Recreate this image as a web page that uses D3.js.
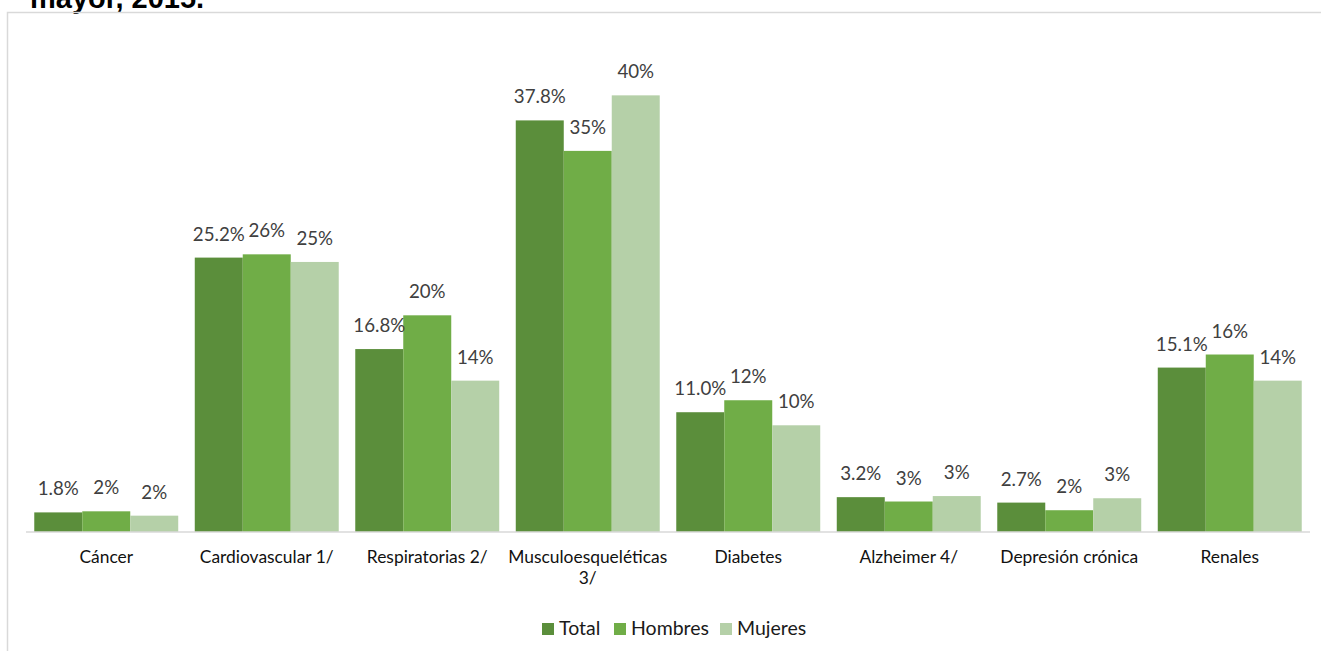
<!DOCTYPE html>
<html>
<head>
<meta charset="utf-8">
<script src="https://cdn.jsdelivr.net/npm/d3@7"></script>
<style>
  html, body { margin: 0; padding: 0; background: #fff; }
  svg { display: block; }
</style>
</head>
<body>
<svg id="chart" width="1321" height="651"></svg>
<script>
const categories = ["Cáncer", "Cardiovascular 1/", "Respiratorias 2/", "Musculoesqueléticas 3/", "Diabetes", "Alzheimer 4/", "Depresión crónica", "Renales"];
const seriesNames = ["Total", "Hombres", "Mujeres"];
const totalValues = [1.8, 25.2, 16.8, 37.8, 11.0, 3.2, 2.7, 15.1];
const hombresValues = [1.9, 25.5, 19.9, 35.0, 12.1, 2.8, 2.0, 16.3];
const mujeresValues = [1.5, 24.8, 13.9, 40.1, 9.8, 3.3, 3.1, 13.9];
const labelFormats = [".1f", ".0f", ".0f"];
const seriesColors = ["#5b8e3b", "#70ad47", "#b5d0a8"];
const yDomain = [0, 45];

const seriesValues = [totalValues, hombresValues, mujeresValues];
const svg = d3.select("#chart");
const font = "Lato, 'Open Sans', sans-serif";

// cut-off title and outer frame
svg.append("text").attr("x", 30).attr("y", 8)
  .attr("font-family", "'Liberation Sans', Arial, sans-serif")
  .attr("font-weight", "bold").attr("font-size", 29).attr("fill", "#000")
  .text("mayor, 2015.");
svg.append("rect").attr("x", 7.5).attr("y", 12.5).attr("width", 1330).attr("height", 660)
  .attr("fill", "none").attr("stroke", "#d9d9d9").attr("stroke-width", 1.5);

const x0 = d3.scaleBand().domain(categories).range([26, 1310]).paddingInner(0.103).paddingOuter(0.0515);
const x1 = d3.scaleBand().domain(seriesNames).range([0, x0.bandwidth()]).padding(0);
const y = d3.scaleLinear().domain(yDomain).range([532, 42]);

const rows = categories.map((c, i) => ({
  cat: c,
  vals: seriesNames.map((s, j) => ({ s, j, v: seriesValues[j][i] }))
}));

const g = svg.append("g");
const groups = g.selectAll("g.cat").data(rows).join("g")
  .attr("transform", d => `translate(${x0(d.cat)},0)`);

groups.selectAll("rect").data(d => d.vals).join("rect")
  .attr("x", d => x1(d.s))
  .attr("y", d => y(d.v))
  .attr("width", x1.bandwidth())
  .attr("height", d => y(0) - y(d.v))
  .attr("fill", d => seriesColors[d.j]);

groups.selectAll("text.lbl").data(d => d.vals).join("text")
  .attr("class", "lbl")
  .attr("x", d => x1(d.s) + x1.bandwidth() / 2)
  .attr("y", d => y(d.v) - 17)
  .attr("text-anchor", "middle")
  .attr("font-family", font).attr("font-size", 18.7).attr("fill", "#404040")
  .text(d => d3.format(labelFormats[d.j])(d.v) + "%");

// axis
const xAxis = d3.axisBottom(x0).tickSize(0).tickPadding(0);
const axG = svg.append("g").attr("transform", "translate(0,532)").call(xAxis);
axG.select(".domain").attr("stroke", "#d9d9d9").attr("stroke-width", 1.5)
  .attr("d", "M26,0H1310");
axG.selectAll(".tick text").remove();
const ctx = document.createElement("canvas").getContext("2d");
ctx.font = "17.4px Lato";
axG.selectAll(".tick").each(function(d) {
  const t = d3.select(this).append("text")
    .attr("text-anchor", "middle")
    .attr("font-family", font).attr("font-size", 17.4).attr("fill", "#111");
  const width = x0.step() - 4;
  const words = d.split(" ");
  let lines = [words[0]];
  for (let k = 1; k < words.length; k++) {
    const test = lines[lines.length - 1] + " " + words[k];
    if (ctx.measureText(test).width > width) lines.push(words[k]);
    else lines[lines.length - 1] = test;
  }
  lines.forEach((ln, k) => {
    t.append("tspan").attr("x", 0).attr("y", 31 + k * 21).text(ln);
  });
});

// legend
const legendX = [542, 614, 720];
const lg = svg.append("g");
seriesNames.forEach((s, j) => {
  const lx = legendX[j];
  lg.append("rect").attr("x", lx).attr("y", 623).attr("width", 12).attr("height", 12)
    .attr("fill", seriesColors[j]);
  lg.append("text").attr("x", lx + 17).attr("y", 635)
    .attr("font-family", font).attr("font-size", 19.5).attr("fill", "#1a1a1a").text(s);
});
</script>
</body>
</html>
